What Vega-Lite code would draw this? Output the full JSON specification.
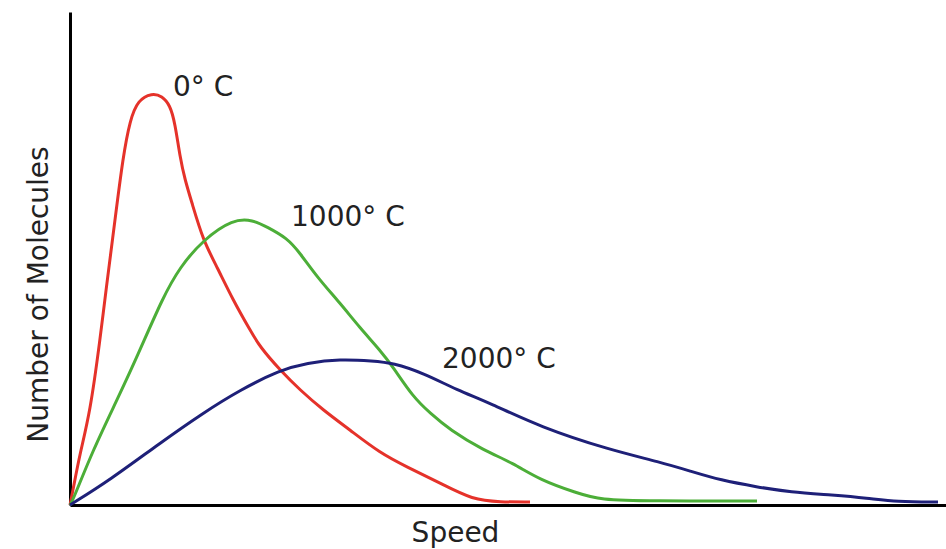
{
  "$schema": "https://vega.github.io/schema/vega-lite/v6.json",
  "width": 876,
  "height": 493,
  "autosize": "none",
  "padding": {"left": 70, "top": 12, "right": 0, "bottom": 44},
  "background": "white",
  "config": {
    "view": {"stroke": null},
    "font": "DejaVu Sans",
    "axis": {"grid": false, "ticks": false, "labels": false, "domainColor": "#000000", "domainWidth": 3, "titleFont": "DejaVu Sans", "titleFontWeight": "normal", "titleColor": "#222222", "titleFontSize": 28}
  },
  "datasets": {
    "curves": [
      {"series": "0", "speed": 0, "count": 0},
      {"series": "0", "speed": 3, "count": 15},
      {"series": "0", "speed": 10, "count": 52},
      {"series": "0", "speed": 20, "count": 92},
      {"series": "0", "speed": 30, "count": 165},
      {"series": "0", "speed": 36, "count": 215},
      {"series": "0", "speed": 45, "count": 285},
      {"series": "0", "speed": 53, "count": 348},
      {"series": "0", "speed": 60, "count": 385},
      {"series": "0", "speed": 68, "count": 405},
      {"series": "0", "speed": 82, "count": 412},
      {"series": "0", "speed": 92, "count": 409},
      {"series": "0", "speed": 100, "count": 400},
      {"series": "0", "speed": 105, "count": 382},
      {"series": "0", "speed": 110, "count": 348},
      {"series": "0", "speed": 115, "count": 325},
      {"series": "0", "speed": 122, "count": 302},
      {"series": "0", "speed": 133, "count": 265},
      {"series": "0", "speed": 147, "count": 238},
      {"series": "0", "speed": 163, "count": 205},
      {"series": "0", "speed": 180, "count": 175},
      {"series": "0", "speed": 190, "count": 158},
      {"series": "0", "speed": 210, "count": 135},
      {"series": "0", "speed": 230, "count": 115},
      {"series": "0", "speed": 253, "count": 95},
      {"series": "0", "speed": 280, "count": 75},
      {"series": "0", "speed": 310, "count": 52},
      {"series": "0", "speed": 337, "count": 38},
      {"series": "0", "speed": 370, "count": 22},
      {"series": "0", "speed": 403, "count": 5},
      {"series": "0", "speed": 430, "count": 3},
      {"series": "0", "speed": 460, "count": 3},
      {"series": "1000", "speed": 0, "count": 0},
      {"series": "1000", "speed": 3, "count": 5},
      {"series": "1000", "speed": 23, "count": 55},
      {"series": "1000", "speed": 47, "count": 105},
      {"series": "1000", "speed": 67, "count": 148},
      {"series": "1000", "speed": 93, "count": 208},
      {"series": "1000", "speed": 110, "count": 238},
      {"series": "1000", "speed": 133, "count": 265},
      {"series": "1000", "speed": 163, "count": 286},
      {"series": "1000", "speed": 183, "count": 285},
      {"series": "1000", "speed": 197, "count": 278},
      {"series": "1000", "speed": 217, "count": 267},
      {"series": "1000", "speed": 230, "count": 252},
      {"series": "1000", "speed": 247, "count": 228},
      {"series": "1000", "speed": 270, "count": 202},
      {"series": "1000", "speed": 290, "count": 177},
      {"series": "1000", "speed": 310, "count": 155},
      {"series": "1000", "speed": 323, "count": 138},
      {"series": "1000", "speed": 343, "count": 108},
      {"series": "1000", "speed": 360, "count": 92},
      {"series": "1000", "speed": 380, "count": 75},
      {"series": "1000", "speed": 413, "count": 55},
      {"series": "1000", "speed": 443, "count": 42},
      {"series": "1000", "speed": 470, "count": 25},
      {"series": "1000", "speed": 507, "count": 12},
      {"series": "1000", "speed": 530, "count": 5},
      {"series": "1000", "speed": 580, "count": 4},
      {"series": "1000", "speed": 687, "count": 4},
      {"series": "2000", "speed": 0, "count": 0},
      {"series": "2000", "speed": 40, "count": 25},
      {"series": "2000", "speed": 90, "count": 62},
      {"series": "2000", "speed": 133, "count": 92},
      {"series": "2000", "speed": 170, "count": 115},
      {"series": "2000", "speed": 210, "count": 135},
      {"series": "2000", "speed": 237, "count": 142},
      {"series": "2000", "speed": 270, "count": 146},
      {"series": "2000", "speed": 303, "count": 144},
      {"series": "2000", "speed": 323, "count": 142},
      {"series": "2000", "speed": 353, "count": 132},
      {"series": "2000", "speed": 387, "count": 115},
      {"series": "2000", "speed": 420, "count": 102},
      {"series": "2000", "speed": 470, "count": 78},
      {"series": "2000", "speed": 540, "count": 55},
      {"series": "2000", "speed": 590, "count": 43},
      {"series": "2000", "speed": 623, "count": 33},
      {"series": "2000", "speed": 650, "count": 25},
      {"series": "2000", "speed": 687, "count": 18},
      {"series": "2000", "speed": 720, "count": 13},
      {"series": "2000", "speed": 763, "count": 10},
      {"series": "2000", "speed": 797, "count": 7},
      {"series": "2000", "speed": 827, "count": 3},
      {"series": "2000", "speed": 868, "count": 3}
    ],
    "labels": [
      {"label": "0° C", "speed": 103, "count": 409},
      {"label": "1000° C", "speed": 221, "count": 279},
      {"label": "2000° C", "speed": 372, "count": 137}
    ]
  },
  "layer": [
    {
      "data": {"name": "curves"},
      "mark": {"type": "line", "strokeWidth": 3, "interpolate": "basis"},
      "encoding": {
        "x": {"field": "speed", "type": "quantitative", "scale": {"domain": [0, 876], "nice": false, "zero": true}, "axis": {"title": "Speed", "titleX": 385, "titleY": 36, "titleBaseline": "alphabetic", "titleAlign": "center"}},
        "y": {"field": "count", "type": "quantitative", "scale": {"domain": [0, 493], "nice": false}, "axis": {"title": "Number of Molecules", "titleX": -23, "titleY": 282, "titleAngle": -90, "titleBaseline": "alphabetic", "titleAlign": "center"}},
        "color": {"field": "series", "type": "nominal", "scale": {"domain": ["0", "1000", "2000"], "range": ["#e5322a", "#4cae38", "#1e2078"]}, "legend": null},
        "order": {"field": "speed", "type": "quantitative"}
      }
    },
    {
      "data": {"name": "labels"},
      "mark": {"type": "text", "align": "left", "baseline": "alphabetic", "fontSize": 28, "color": "#222222", "font": "DejaVu Sans"},
      "encoding": {
        "x": {"field": "speed", "type": "quantitative"},
        "y": {"field": "count", "type": "quantitative"},
        "text": {"field": "label"}
      }
    }
  ]
}
